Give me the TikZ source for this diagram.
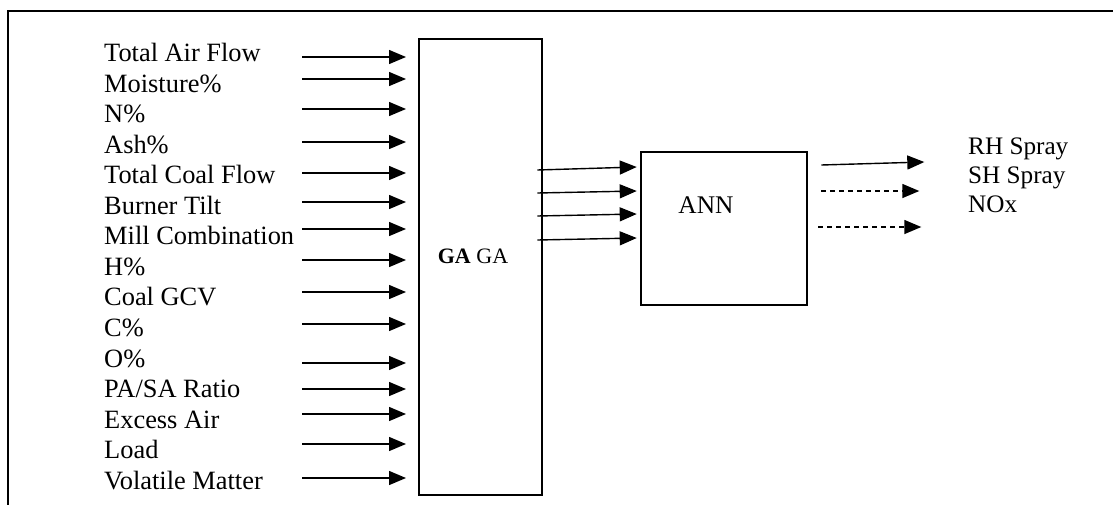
\documentclass[tikz,border=0pt]{standalone}
\usepackage{fontspec}
\setmainfont{Liberation Serif}
\usetikzlibrary{arrows.meta}

\begin{document}
\begin{tikzpicture}[
    x=1pt, y=-1pt,
    box/.style={draw, line width=2.6pt, inner sep=0pt},
    inlabel/.style={font=\fontsize{26.4}{30}\selectfont, inner sep=0pt, anchor=base west},
    link/.style={-{Triangle[length=17pt, width=14pt]}, line width=1.4pt},
    dashlink/.style={link, dash pattern=on 5pt off 4pt}
]
    \useasboundingbox (0,0) rectangle (1113,504);
    \clip (0,0) rectangle (1113,504);
    \draw[line width=2.2pt] (8,11) rectangle (1130,530);

    % blocks
    \node[box, minimum width=123pt, minimum height=456pt] (GA) at (480.5,267) {};
    \node[font=\fontsize{22}{26}\selectfont, inner sep=0pt, anchor=base] (GAtext) at (473,263.3) {\textbf{GA} GA};
    \node[box, minimum width=166pt, minimum height=153pt] (ANN) at (724,228.5) {};
    \node[font=\fontsize{25.4}{30}\selectfont, inner sep=0pt, anchor=base] (ANNtext) at (706,213.3) {ANN};

    % inputs
    \foreach \t/\ya [count=\i] in {Total Air Flow/57, Moisture\%/79, N\%/109, Ash\%/142,
        Total Coal Flow/173, Burner Tilt/202, Mill Combination/229, H\%/260,
        Coal GCV/292, C\%/324, O\%/363, {PA/SA Ratio}/389, Excess Air/414,
        Load/444, Volatile Matter/478} {
        \node[inlabel] (in\i) at (104, 61.5+30.55*\i-30.55) {\t};
        \coordinate (s\i) at (302,\ya);
        \coordinate (e\i) at (406,\ya);
        \draw[link] (s\i) -- (e\i);
    }

    % GA to ANN
    \foreach \ya/\yb in {170/167, 193/191, 216/214, 240/238}
        \draw[link] ([shift={(-6,\ya-267)}]GA.east) -- ([shift={(-3,\yb-228.5)}]ANN.west);

    % outputs
    \draw[link] ([shift={(13,165-228.5)}]ANN.east) -- ([shift={(116,162-228.5)}]ANN.east);
    \draw[dashlink] ([shift={(13,191-228.5)}]ANN.east) -- ([shift={(111,191-228.5)}]ANN.east);
    \draw[dashlink] ([shift={(10,227-228.5)}]ANN.east) -- ([shift={(113,227-228.5)}]ANN.east);
    \node[inlabel, font=\fontsize{25.2}{30}\selectfont] (out1) at (968,154.5) {RH Spray};
    \node[inlabel, font=\fontsize{25.2}{30}\selectfont] (out2) at (968,183.5) {SH Spray};
    \node[inlabel, font=\fontsize{25.2}{30}\selectfont] (out3) at (968,212.5) {NOx};
\end{tikzpicture}
\end{document}
